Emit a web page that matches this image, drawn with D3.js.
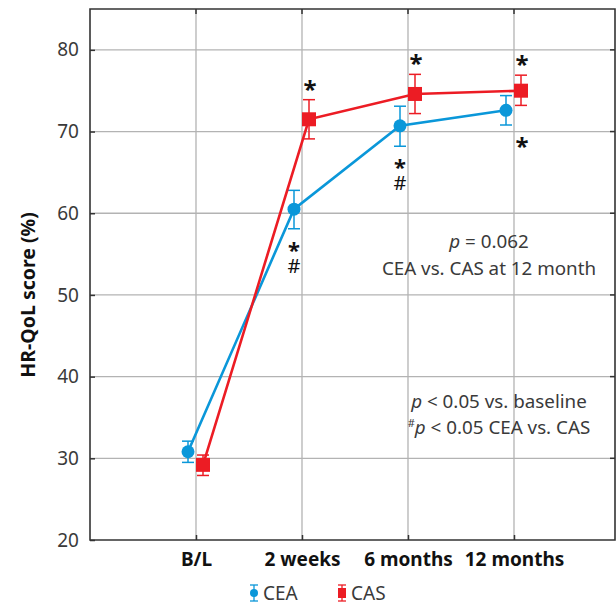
<!DOCTYPE html>
<html><head><meta charset="utf-8">
<script src="https://cdn.jsdelivr.net/npm/d3@7"></script>
<style>body{margin:0;background:#fff}svg{display:block}
.vmark{writing-mode:vertical-rl;text-orientation:upright;}
</style>
</head><body>
<script>
const categories = ["B/L", "2 weeks", "6 months", "12 months"];
const ceaMean = [30.8, 60.5, 70.7, 72.6];
const ceaLow  = [29.5, 58.1, 68.2, 70.8];
const ceaHigh = [32.1, 62.8, 73.1, 74.4];
const casMean = [29.2, 71.5, 74.6, 75.0];
const casLow  = [27.9, 69.1, 72.2, 73.2];
const casHigh = [30.4, 73.9, 77.0, 76.9];
const yTicks = [20, 30, 40, 50, 60, 70, 80];
const ceaBelow = ["", "*#", "*#", "*"];
const casAbove = ["", "*", "*", "*"];

const W = 616, H = 605;
const BLUE = "#0a97d9", RED = "#ec1c24";
const svg = d3.select("body").append("svg").attr("width", W).attr("height", H);
const font = "'Noto Sans', sans-serif";

const x = d3.scaleLinear().domain([0, 5]).range([90, 620]);
const y = d3.scaleLinear().domain([20, 85]).range([540, 9]);

// grid
svg.append("g").selectAll("line").data(yTicks.slice(1)).join("line")
  .attr("x1", 90).attr("x2", 615).attr("y1", d => y(d)).attr("y2", d => y(d))
  .attr("stroke", "#b3b3b3").attr("stroke-width", 1.3);
svg.append("g").selectAll("line").data(categories).join("line")
  .attr("x1", (d, i) => x(i + 1)).attr("x2", (d, i) => x(i + 1))
  .attr("y1", y(85)).attr("y2", y(20))
  .attr("stroke", "#b3b3b3").attr("stroke-width", 1.3);

// axes
const yAxis = d3.axisLeft(y).tickValues(yTicks).tickSize(-5).tickPadding(11);
const gy = svg.append("g").attr("transform", "translate(90,0)").call(yAxis);
gy.select(".domain").remove();
gy.selectAll(".tick line").attr("stroke", "#333").attr("stroke-width", 1.5);
gy.selectAll("text").attr("font-family", font).attr("font-size", 19).attr("fill", "#3a3a3a");

const xAxis = d3.axisBottom(x).tickValues([1, 2, 3, 4]).tickFormat(d => categories[d - 1]).tickSize(-5).tickPadding(13);
const gx = svg.append("g").attr("transform", `translate(0,${y(20)})`).call(xAxis);
gx.select(".domain").remove();
gx.selectAll(".tick line").attr("stroke", "#333").attr("stroke-width", 1.5);
gx.selectAll("text").attr("font-family", font).attr("font-size", 19).attr("font-weight", "bold").attr("fill", "#111");

// top/right ticks
svg.append("g").selectAll("line").data([1,2,3,4]).join("line")
  .attr("x1", d => x(d)).attr("x2", d => x(d)).attr("y1", y(85)).attr("y2", y(85) + 5)
  .attr("stroke", "#333").attr("stroke-width", 1.5);
svg.append("g").selectAll("line").data(yTicks.slice(1)).join("line")
  .attr("x1", 610).attr("x2", 615).attr("y1", d => y(d)).attr("y2", d => y(d))
  .attr("stroke", "#333").attr("stroke-width", 1.5);

// frame
svg.append("path")
  .attr("d", `M90,${y(85)}H615V${y(20)}H90Z`)
  .attr("fill", "none").attr("stroke", "#333").attr("stroke-width", 1.6);

// series
const series = [
  {mean: ceaMean, low: ceaLow, high: ceaHigh, color: BLUE, off: -8, shape: "circle"},
  {mean: casMean, low: casLow, high: casHigh, color: RED, off: 7, shape: "square"}
];
const line = d3.line();
series.forEach(s => {
  const pts = s.mean.map((v, i) => [x(i + 1) + s.off, y(v)]);
  svg.append("path").attr("d", line(pts)).attr("fill", "none")
    .attr("stroke", s.color).attr("stroke-width", 2.6);
  const g = svg.append("g");
  s.mean.forEach((v, i) => {
    const cx = x(i + 1) + s.off;
    g.append("line").attr("x1", cx).attr("x2", cx).attr("y1", y(s.low[i])).attr("y2", y(s.high[i]))
      .attr("stroke", s.color).attr("stroke-width", 1.5);
    [s.low[i], s.high[i]].forEach(e => g.append("line")
      .attr("x1", cx - 6).attr("x2", cx + 6).attr("y1", y(e)).attr("y2", y(e))
      .attr("stroke", s.color).attr("stroke-width", 1.5));
    if (s.shape === "circle") g.append("circle").attr("cx", cx).attr("cy", y(v)).attr("r", 6.5).attr("fill", s.color);
    else g.append("rect").attr("x", cx - 7).attr("y", y(v) - 7).attr("width", 14).attr("height", 14).attr("fill", s.color);
  });
});

// significance marks
const marks = svg.append("g").attr("font-family", font).attr("fill", "#111").attr("text-anchor", "middle");
casAbove.forEach((m, i) => {
  if (!m) return;
  marks.append("text").attr("x", x(i + 1) + 8).attr("y", y(casHigh[i]) - 2)
    .attr("font-size", 24).attr("font-weight", "bold").text("*");
});
ceaBelow.forEach((m, i) => {
  if (!m) return;
  const cx = x(i + 1) + (i === 3 ? 8 : -8);
  const yb = y(ceaLow[i]);
  if (m.length === 1) {
    marks.append("text").attr("x", cx).attr("y", yb + 30).attr("font-size", 24).attr("font-weight", "bold").text("*");
  } else {
    const t = marks.append("text").attr("class", "vmark").attr("text-anchor", "start")
      .attr("x", cx).attr("y", yb + 5).attr("font-size", 20).style("letter-spacing", "-12px");
    t.append("tspan").attr("font-weight", "bold").attr("font-size", 22).text("*");
    t.append("tspan").text("#");
  }
});

// annotations
const ann = svg.append("g").attr("font-family", font).attr("font-size", 18.8).attr("fill", "#3a3a3a").attr("text-anchor", "middle");
const t1 = ann.append("text").attr("x", 489).attr("y", 248);
t1.append("tspan").attr("font-style", "italic").text("p");
t1.append("tspan").text(" = 0.062");
ann.append("text").attr("x", 489).attr("y", 275).text("CEA vs. CAS at 12 month");
const t3 = ann.append("text").attr("x", 499).attr("y", 408);
t3.append("tspan").attr("font-style", "italic").text("p");
t3.append("tspan").text(" < 0.05 vs. baseline");
const t4 = ann.append("text").attr("x", 499).attr("y", 434);
t4.append("tspan").attr("font-size", 11).attr("dy", -7).text("#");
t4.append("tspan").attr("font-style", "italic").attr("dy", 7).text("p");
t4.append("tspan").text(" < 0.05 CEA vs. CAS");

// y title
svg.append("text").attr("transform", `translate(35,${y(50)}) rotate(-90)`)
  .attr("text-anchor", "middle").attr("font-family", font).attr("font-size", 19.5)
  .attr("font-weight", "bold").attr("fill", "#111").text("HR-QoL score (%)");

// legend
const legendItems = [{name: "CEA", color: BLUE, shape: "circle", x: 254}, {name: "CAS", color: RED, shape: "square", x: 342}];
const lg = svg.append("g");
legendItems.forEach(d => {
  const cy = 593;
  lg.append("line").attr("x1", d.x).attr("x2", d.x).attr("y1", cy - 8).attr("y2", cy + 8).attr("stroke", d.color).attr("stroke-width", 1.3);
  [cy - 8, cy + 8].forEach(e => lg.append("line").attr("x1", d.x - 4).attr("x2", d.x + 4).attr("y1", e).attr("y2", e).attr("stroke", d.color).attr("stroke-width", 1.3));
  if (d.shape === "circle") lg.append("circle").attr("cx", d.x).attr("cy", cy).attr("r", 4).attr("fill", d.color);
  else lg.append("rect").attr("x", d.x - 4).attr("y", cy - 5).attr("width", 8).attr("height", 10).attr("fill", d.color);
  lg.append("text").attr("x", d.x + 9).attr("y", cy + 7).attr("font-family", font).attr("font-size", 19).attr("fill", "#3a3a3a").text(d.name);
});
</script>
</body></html>
